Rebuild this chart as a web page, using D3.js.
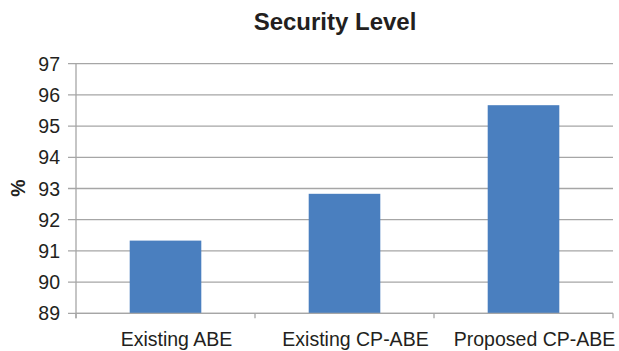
<!DOCTYPE html>
<html>
<head>
<meta charset="utf-8">
<script src="https://cdn.jsdelivr.net/npm/d3@7"></script>
<style>
  body { margin: 0; background: #fff; }
  text { font-family: "Liberation Sans", Arial, sans-serif; fill: #231f20; }
</style>
</head>
<body>
<div id="viz"></div>
<script>
var width = 619;
var height = 351;

var categories = ['Existing ABE', 'Existing CP-ABE', 'Proposed CP-ABE'];
var values = [91.33, 92.83, 95.67];
var yTicks = [89, 90, 91, 92, 93, 94, 95, 96, 97];

var margin = {top: 63.7, right: 6, bottom: 37.7, left: 76};
var plotW = width - margin.left - margin.right;
var plotH = height - margin.top - margin.bottom;

var svg = d3.select('#viz').append('svg')
  .attr('width', width)
  .attr('height', height);

var x = d3.scaleBand()
  .domain(categories)
  .range([0, plotW])
  .paddingInner(0.6)
  .paddingOuter(0.3);

var y = d3.scaleLinear()
  .domain([89, 97])
  .range([plotH, 0]);

var g = svg.append('g')
  .attr('transform', 'translate(' + margin.left + ',' + margin.top + ')');

// gridlines + y ticks (one line each, tick runs into gridline)
g.selectAll('.grid')
  .data(yTicks).enter()
  .append('line')
  .attr('x1', -8)
  .attr('x2', plotW)
  .attr('y1', function (d) { return y(d); })
  .attr('y2', function (d) { return y(d); })
  .style('stroke', '#a6a6a6')
  .style('stroke-width', 1.3);

g.selectAll('.ylab')
  .data(yTicks).enter()
  .append('text')
  .attr('x', -16)
  .attr('y', function (d) { return y(d); })
  .attr('dy', '0.36em')
  .attr('text-anchor', 'end')
  .style('font-size', '19.5px')
  .text(function (d) { return d; });

// bars
g.selectAll('.bar')
  .data(values).enter()
  .append('rect')
  .attr('x', function (d, i) { return x(categories[i]); })
  .attr('width', x.bandwidth())
  .attr('y', function (d) { return y(d); })
  .attr('height', function (d) { return plotH - y(d); })
  .style('fill', '#4a7fbf');

// y axis line
g.append('line')
  .attr('x1', 0).attr('x2', 0)
  .attr('y1', 0).attr('y2', plotH + 5)
  .style('stroke', '#a6a6a6')
  .style('stroke-width', 1.3);

// x axis line + ticks at category boundaries
g.append('line')
  .attr('x1', 0).attr('x2', plotW)
  .attr('y1', plotH).attr('y2', plotH)
  .style('stroke', '#a6a6a6')
  .style('stroke-width', 1.3);

var step = plotW / categories.length;
g.selectAll('.xtick')
  .data(d3.range(categories.length + 1)).enter()
  .append('line')
  .attr('x1', function (d) { return d * step; })
  .attr('x2', function (d) { return d * step; })
  .attr('y1', plotH)
  .attr('y2', plotH + 5)
  .style('stroke', '#a6a6a6')
  .style('stroke-width', 1.3);

// labels sit a little right of the bar centres in the original
g.selectAll('.xlab')
  .data(categories).enter()
  .append('text')
  .attr('x', function (d) { return x(d) + x.bandwidth() / 2 + 11; })
  .attr('y', plotH + 33)
  .attr('text-anchor', 'middle')
  .style('font-size', '19.5px')
  .text(function (d) { return d; });

// title
svg.append('text')
  .attr('x', 335)
  .attr('y', 30)
  .attr('text-anchor', 'middle')
  .style('font-size', '24px')
  .style('font-weight', 'bold')
  .text('Security Level');

// y label
svg.append('text')
  .attr('transform', 'translate(25,188) rotate(-90)')
  .attr('text-anchor', 'middle')
  .style('font-size', '19.5px')
  .style('font-weight', 'bold')
  .text('%');
</script>
</body>
</html>
